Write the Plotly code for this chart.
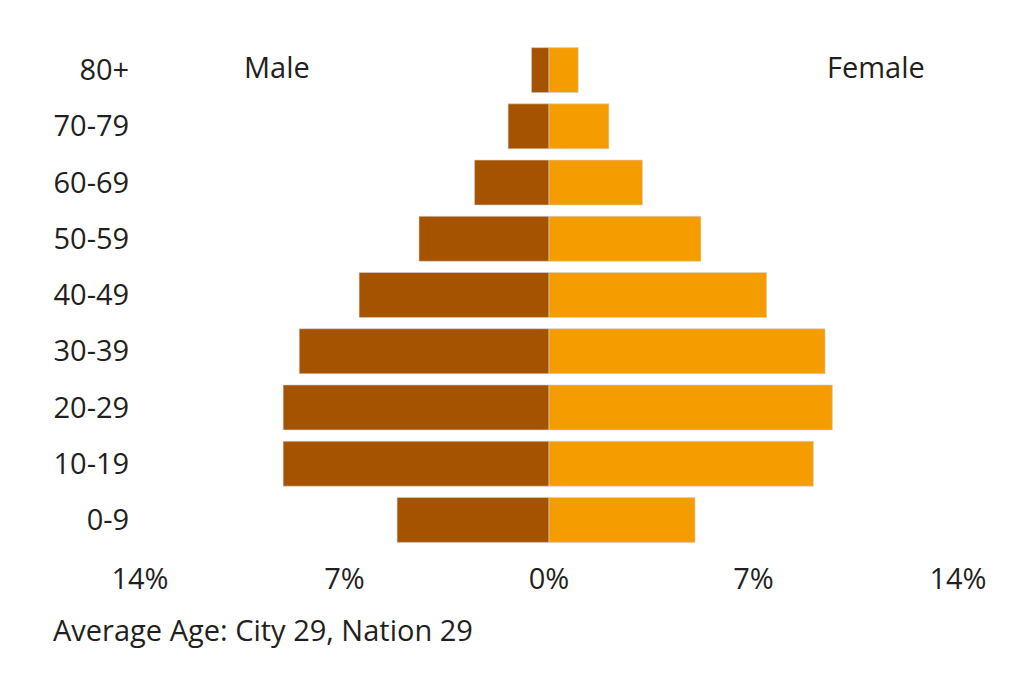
import plotly.graph_objects as go

age_groups = ["0-9", "10-19", "20-29", "30-39", "40-49", "50-59", "60-69", "70-79", "80+"]
male_pct = [5.2, 9.1, 9.1, 8.55, 6.5, 4.45, 2.55, 1.4, 0.6]
female_pct = [5.0, 9.05, 9.7, 9.45, 7.45, 5.2, 3.2, 2.05, 1.0]
tick_vals = [-14, -7, 0, 7, 14]
tick_text = ["14%", "7%", "0%", "7%", "14%"]
avg_text = "Average Age: City 29, Nation 29"

FONT = "Open Sans"
TXT = "#231f20"
FS = 29

fig = go.Figure()
fig.add_trace(go.Bar(
    y=age_groups, x=[-v for v in male_pct], orientation="h", name="Male",
    marker=dict(color="#a65300", line=dict(color="rgba(210,210,210,0.6)", width=1)),
    customdata=male_pct, hovertemplate="%{y}: %{customdata}%<extra>Male</extra>",
))
fig.add_trace(go.Bar(
    y=age_groups, x=female_pct, orientation="h", name="Female",
    marker=dict(color="#f59d00", line=dict(color="rgba(210,210,210,0.6)", width=1)),
    hovertemplate="%{y}: %{x}%<extra>Female</extra>",
))

fig.update_layout(
    width=1024, height=697,
    barmode="relative", bargap=0.2,
    plot_bgcolor="white", paper_bgcolor="white",
    showlegend=False,
    margin=dict(l=132, r=74, t=34, b=157),
    font=dict(family=FONT, size=FS, color=TXT),
    xaxis=dict(range=[-14, 14], tickvals=tick_vals, ticktext=tick_text,
               showgrid=False, zeroline=False, showline=False,
               ticks="outside", ticklen=5, tickcolor="white",
               tickfont=dict(family=FONT, size=FS, color=TXT)),
    yaxis=dict(categoryorder="array", categoryarray=age_groups,
               range=[-0.5, 8.5], showgrid=False, zeroline=False, showline=False,
               ticks="outside", ticklen=4, tickcolor="white",
               tickfont=dict(family=FONT, size=FS, color=TXT)),
    annotations=[
        dict(text="Male", x=-9.3, y=8, xref="x", yref="y", showarrow=False,
             font=dict(family=FONT, size=FS, color=TXT), yshift=4),
        dict(text="Female", x=11.2, y=8, xref="x", yref="y", showarrow=False,
             font=dict(family=FONT, size=FS, color=TXT), yshift=4),
        dict(text=avg_text, x=-0.109, y=-0.161, xref="paper", yref="paper",
             xanchor="left", yanchor="middle", showarrow=False,
             font=dict(family=FONT, size=FS, color=TXT)),
    ],
)

fig.write_html("out.html")
